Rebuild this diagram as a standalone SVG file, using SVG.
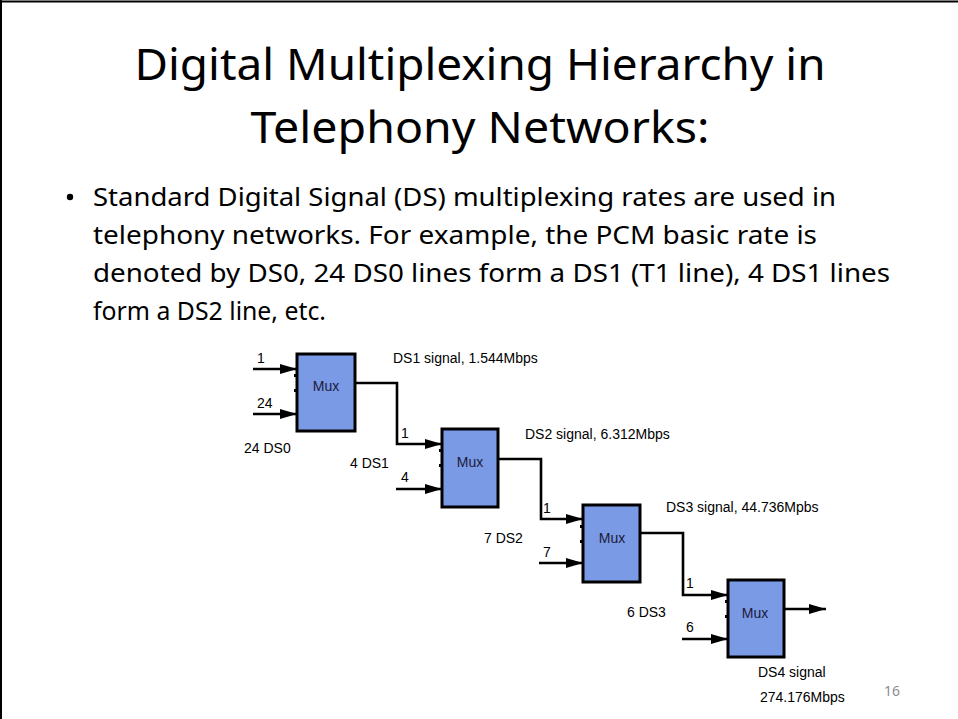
<svg xmlns="http://www.w3.org/2000/svg" width="958" height="719" viewBox="0 0 958 719">
  <defs>
    <marker id="arrow" viewBox="0 0 10 10" refX="10" refY="5" markerWidth="17" markerHeight="10" markerUnits="userSpaceOnUse" orient="auto" preserveAspectRatio="none">
      <path d="M0,0 L10,5 L0,10 Z" fill="#000"/>
    </marker>
    <style>
      .title { font-family: "Noto Sans", "Open Sans", sans-serif; font-size: 44px; fill: #000; text-anchor: middle; }
      .body { font-family: "Noto Sans", "Open Sans", sans-serif; font-size: 26px; fill: #000; }
      .lbl { font-family: "Liberation Sans", Arial, sans-serif; font-size: 14px; fill: #000; }
      .mux rect { fill: #7b9ae6; stroke: #000; stroke-width: 3; }
      .mux rect.dot { fill: #000; stroke: none; }
      .mux text { font-family: "Liberation Sans", Arial, sans-serif; font-size: 14px; fill: #1a1a3a; text-anchor: middle; }
      .in { fill: none; stroke: #000; stroke-width: 2.6; marker-end: url(#arrow); }
      .page { font-family: "Noto Sans", sans-serif; font-size: 14px; fill: #8c8c8c; }
    </style>
  </defs>

  <rect x="0" y="0" width="958" height="719" fill="#fff"/>
  <!-- slide frame: top and left edges -->
  <line x1="0" y1="1.5" x2="958" y2="1.5" stroke="#000" stroke-width="2"/>
  <line x1="1" y1="0" x2="1" y2="719" stroke="#000" stroke-width="2"/>

  <!-- heading -->
  <text class="title" x="480" y="80" textLength="691" lengthAdjust="spacingAndGlyphs">Digital Multiplexing Hierarchy in</text>
  <text class="title" x="480" y="143" textLength="459" lengthAdjust="spacingAndGlyphs">Telephony Networks:</text>

  <!-- bullet paragraph -->
  <circle cx="70" cy="197" r="3.2" fill="#000"/>
  <text class="body" x="93" y="206" textLength="743" lengthAdjust="spacingAndGlyphs">Standard Digital Signal (DS) multiplexing rates are used in</text>
  <text class="body" x="93" y="244" textLength="724" lengthAdjust="spacingAndGlyphs">telephony networks. For example, the PCM basic rate is</text>
  <text class="body" x="93" y="282" textLength="797" lengthAdjust="spacingAndGlyphs">denoted by DS0, 24 DS0 lines form a DS1 (T1 line), 4 DS1 lines</text>
  <text class="body" x="93" y="320" textLength="233" lengthAdjust="spacingAndGlyphs">form a DS2 line, etc.</text>

  <!-- connectors -->
  <g id="connectors">
    <!-- DS0 inputs to mux 1 -->
    <line class="in" x1="253" y1="369" x2="297" y2="369"/>
    <line class="in" x1="253" y1="414" x2="297" y2="414"/>
    <!-- DS1 from mux 1 to mux 2 -->
    <polyline class="in" points="355,383 397,383 397,444 442,444"/>
    <line class="in" x1="396" y1="489" x2="442" y2="489"/>
    <!-- DS2 from mux 2 to mux 3 -->
    <polyline class="in" points="498,459 541,459 541,519 583,519"/>
    <line class="in" x1="539" y1="563" x2="583" y2="563"/>
    <!-- DS3 from mux 3 to mux 4 -->
    <polyline class="in" points="640,533 683,533 683,595 728,595"/>
    <line class="in" x1="682" y1="639" x2="728" y2="639"/>
    <!-- DS4 output -->
    <line class="in" x1="784" y1="609" x2="826" y2="609"/>
  </g>

  <!-- multiplexers -->
  <g id="mux1" class="mux">
    <rect x="297" y="354" width="58" height="77"/>
    <text x="326" y="391">Mux</text>
    <rect class="dot" x="294" y="374" width="2" height="3"/>
    <rect class="dot" x="294" y="389" width="2" height="3"/>
  </g>
  <g id="mux2" class="mux">
    <rect x="442" y="429" width="56" height="78"/>
    <text x="470" y="467">Mux</text>
    <rect class="dot" x="439" y="449" width="2" height="3"/>
    <rect class="dot" x="439" y="464" width="2" height="3"/>
  </g>
  <g id="mux3" class="mux">
    <rect x="583" y="505" width="57" height="77"/>
    <text x="612" y="543">Mux</text>
    <rect class="dot" x="580" y="525" width="2" height="3"/>
    <rect class="dot" x="580" y="540" width="2" height="3"/>
  </g>
  <g id="mux4" class="mux">
    <rect x="728" y="580" width="56" height="77"/>
    <text x="755" y="618">Mux</text>
    <rect class="dot" x="725" y="600" width="2" height="3"/>
    <rect class="dot" x="725" y="615" width="2" height="3"/>
  </g>

  <!-- labels -->
  <g id="labels">
    <text class="lbl" x="257" y="363">1</text>
    <text class="lbl" x="257" y="408">24</text>
    <text class="lbl" x="244" y="453">24 DS0</text>
    <text class="lbl" x="393" y="363">DS1 signal, 1.544Mbps</text>

    <text class="lbl" x="401" y="438">1</text>
    <text class="lbl" x="401" y="482">4</text>
    <text class="lbl" x="350" y="468">4 DS1</text>
    <text class="lbl" x="525" y="439">DS2 signal, 6.312Mbps</text>

    <text class="lbl" x="543" y="513">1</text>
    <text class="lbl" x="543" y="557">7</text>
    <text class="lbl" x="484" y="543">7 DS2</text>
    <text class="lbl" x="666" y="512">DS3 signal, 44.736Mpbs</text>

    <text class="lbl" x="686" y="588">1</text>
    <text class="lbl" x="686" y="632">6</text>
    <text class="lbl" x="627" y="617">6 DS3</text>
    <text class="lbl" x="758" y="677">DS4 signal</text>
    <text class="lbl" x="760" y="702">274.176Mbps</text>
  </g>

  <text class="page" x="884" y="696">16</text>
</svg>
